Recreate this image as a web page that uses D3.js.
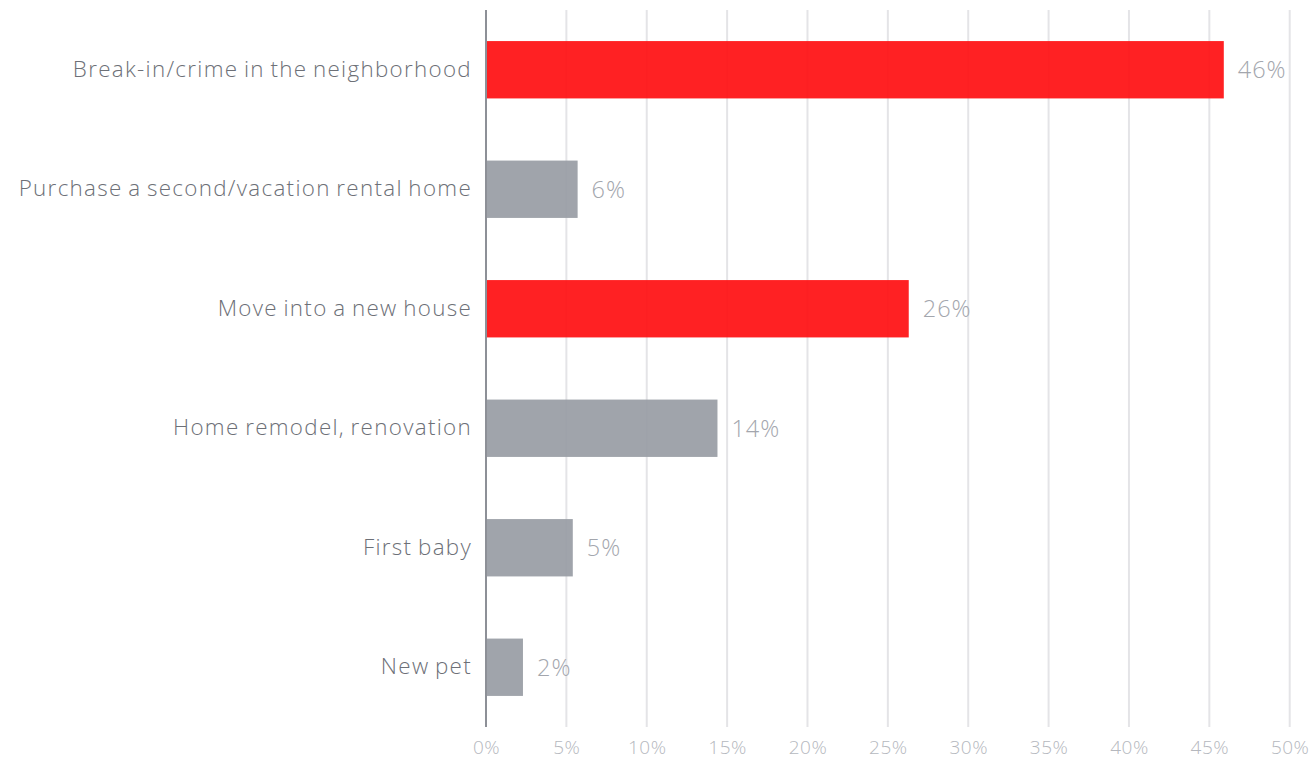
<!DOCTYPE html>
<html>
<head>
<meta charset="utf-8">
<script src="https://cdn.jsdelivr.net/npm/d3@7"></script>
<style>
  html, body { margin: 0; padding: 0; background: #ffffff; }
  svg { display: block; }
  text { font-family: "Open Sans", Lato, sans-serif; }
</style>
</head>
<body>
<svg id="chart" width="1315" height="759"></svg>
<script>
// Share of respondents by reason (percent)
const categories = [
  "Break-in/crime in the neighborhood",
  "Purchase a second/vacation rental home",
  "Move into a new house",
  "Home remodel, renovation",
  "First baby",
  "New pet"
];
const values = [45.9, 5.7, 26.3, 14.4, 5.4, 2.3];
const highlighted = [true, false, true, false, false, false];
const tickValues = [0, 5, 10, 15, 20, 25, 30, 35, 40, 45, 50];

const FONT = "'Open Sans', Lato, sans-serif";
const svg = d3.select("#chart");

const x = d3.scaleLinear().domain([0, 50]).range([486, 1289.7]);
const y = d3.scaleBand()
  .domain(categories)
  .range([10, 727])
  .paddingInner(0.52)
  .paddingOuter(0.26);

const data = categories.map((c, i) => ({ c, v: values[i], hi: highlighted[i] }));

// vertical gridlines
svg.append("g")
  .selectAll("line")
  .data(tickValues.filter(t => t > 0))
  .join("line")
  .attr("x1", d => x(d)).attr("x2", d => x(d))
  .attr("y1", 10).attr("y2", 727)
  .attr("stroke", "#e4e4e7")
  .attr("stroke-width", 2);

// bars
svg.append("g")
  .selectAll("rect")
  .data(data)
  .join("rect")
  .attr("x", x(0))
  .attr("y", d => y(d.c))
  .attr("width", d => x(d.v) - x(0))
  .attr("height", y.bandwidth())
  .attr("fill", d => d.hi ? "rgb(255,16,18)" : "rgb(153,157,165)")
  .attr("fill-opacity", 0.93);

// value labels
svg.append("g")
  .selectAll("text")
  .data(data)
  .join("text")
  .attr("x", d => x(d.v) + 14)
  .attr("y", d => y(d.c) + y.bandwidth() / 2)
  .attr("dy", "0.36em")
  .attr("fill", "#a3a6ad")
  .attr("font-size", 23.5)
  .attr("font-weight", 300)
  .attr("letter-spacing", 1)
  .attr("font-family", FONT)
  .text(d => d3.format(".0f")(d.v) + "%");

// category axis
const yAxis = d3.axisLeft(y).tickSize(0).tickPadding(14);
const gy = svg.append("g")
  .attr("transform", `translate(${x(0)},0)`)
  .call(yAxis);
gy.select(".domain").remove();
gy.selectAll("text")
  .attr("fill", "#6d7077")
  .attr("font-size", 22.4)
  .attr("font-weight", 300)
  .attr("letter-spacing", 1.3)
  .attr("word-spacing", -1.5)
  .attr("font-family", FONT);

// baseline
svg.append("line")
  .attr("x1", x(0)).attr("x2", x(0))
  .attr("y1", 10).attr("y2", 727)
  .attr("stroke", "#8d9097")
  .attr("stroke-width", 2);

// percent axis
const xAxis = d3.axisBottom(x)
  .tickValues(tickValues)
  .tickSize(0)
  .tickPadding(14)
  .tickFormat(d => d + "%");
const gx = svg.append("g")
  .attr("transform", "translate(0,727)")
  .call(xAxis);
gx.select(".domain").remove();
gx.selectAll("text")
  .attr("fill", "#b5b8be")
  .attr("font-size", 19)
  .attr("font-weight", 300)
  .attr("letter-spacing", 0.5)
  .attr("font-family", FONT);
</script>
</body>
</html>
